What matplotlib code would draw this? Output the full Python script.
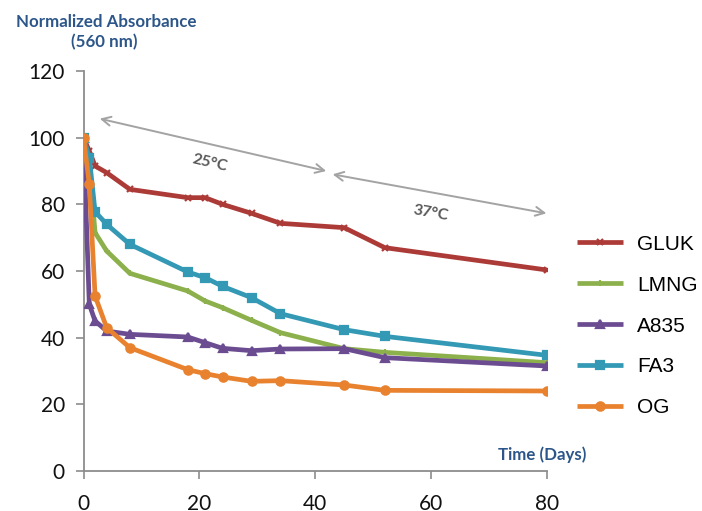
import matplotlib
matplotlib.use("Agg")
import matplotlib.pyplot as plt

days = [0, 1, 2, 4, 8, 18, 21, 24, 29, 34, 45, 52, 80]
gluk = [100, 96, 91.5, 89.5, 84.5, 82, 82, 80, 77.3, 74.3, 73, 67, 60.3]
lmng = [100, 92, 71.5, 66, 59.3, 54, 51, 49, 45.2, 41.5, 36.7, 35.6, 32.5]
a835 = [100, 50, 45, 42, 41, 40.2, 38.5, 36.8, 36.1, 36.6, 36.7, 34, 31.5]
fa3 = [100, 94, 77.8, 74, 68, 59.7, 58, 55.4, 52, 47.2, 42.4, 40.4, 34.7]
og = [100, 86, 52.5, 43, 37, 30.4, 29.2, 28.2, 26.9, 27.1, 25.8, 24.2, 24]

names = ["GLUK", "LMNG", "A835", "FA3", "OG"]
series = [gluk, lmng, a835, fa3, og]
colors = ["#AC3B38", "#8CB04B", "#6C4C91", "#3399B5", "#E8822F"]
markers = ["x", "+", "^", "s", "o"]
msizes = [5, 5, 6, 6, 6]

xticks = [0, 20, 40, 60, 80]
yticks = [0, 20, 40, 60, 80, 100, 120]

fig = plt.figure(figsize=(7.02, 5.11), dpi=100)
ax = fig.add_axes([83.5 / 702, 40 / 511, 463.5 / 702, 400 / 511])

for name, vals, c, m, ms in zip(names, series, colors, markers, msizes):
    ax.plot(days, vals, color=c, lw=3.4, marker=m, ms=ms, mew=1.6,
            mfc=c, mec=c, label=name, solid_joinstyle="round",
            solid_capstyle="butt")

ax.set_xlim(0, 80)
ax.set_ylim(0, 120)
ax.set_xticks(xticks)
ax.set_yticks(yticks)
ax.set_xticklabels([str(t) for t in xticks])
ax.set_yticklabels([str(t) for t in yticks])
for s in ["top", "right"]:
    ax.spines[s].set_visible(False)
for s in ["left", "bottom"]:
    ax.spines[s].set_color("#8C8C8C")
    ax.spines[s].set_linewidth(1.3)
ax.spines["left"].set_zorder(0.5)
ax.tick_params(axis="both", direction="out", length=5.5, width=1.2,
               color="#8C8C8C", labelsize=15, labelcolor="#111111")
ax.tick_params(axis="y", pad=8)
ax.tick_params(axis="x", pad=11)
for lab in ax.get_xticklabels() + ax.get_yticklabels():
    lab.set_family("Lato")

# temperature arrows
arrow_kw = dict(arrowstyle="<->", color="#A3A3A3", lw=1.4, mutation_scale=16,
                shrinkA=0, shrinkB=0)
ax.annotate("", xy=(2.8, 105.7), xytext=(41.9, 90.0), arrowprops=arrow_kw,
            annotation_clip=False)
ax.annotate("", xy=(43.0, 89.0), xytext=(79.9, 77.3), arrowprops=arrow_kw,
            annotation_clip=False)
ax.text(21.8, 92.4, "25°C", rotation=-13, ha="center", va="center",
        fontsize=11.5, fontweight="bold", color="#595959", family="Lato")
ax.text(60.0, 77.4, "37°C", rotation=-10, ha="center", va="center",
        fontsize=11.5, fontweight="bold", color="#595959", family="Lato")

title_c = "#2C5689"
fig.text(106 / 702, 1 - 21.7 / 511, "Normalized Absorbance", ha="center",
         va="center", fontsize=12.2, fontweight="bold", color=title_c,
         family="Lato")
fig.text(104 / 702, 1 - 41.7 / 511, "(560 nm)", ha="center", va="center",
         fontsize=12.2, fontweight="bold", color=title_c, family="Lato")
fig.text(542 / 702, 1 - 455 / 511, "Time (Days)", ha="center", va="center",
         fontsize=12.2, fontweight="bold", color=title_c, family="Lato")

leg = ax.legend(loc="center left", bbox_to_anchor=(577 / 702, 1 - 326 / 511),
                bbox_transform=fig.transFigure, frameon=False, numpoints=1,
                handlelength=2.2, handletextpad=0.7, labelspacing=1.05,
                borderpad=0, borderaxespad=0,
                prop={"family": "Liberation Sans", "size": 15})

fig.savefig("out.png", dpi=100)
